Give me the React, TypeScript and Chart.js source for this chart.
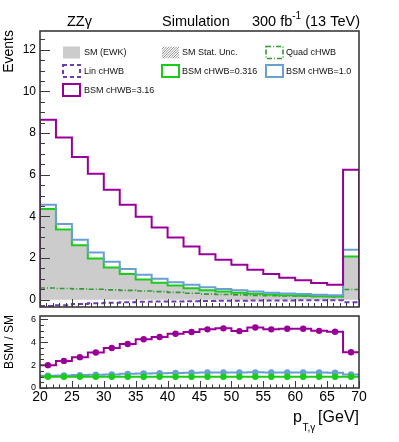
import React, { useEffect, useRef } from 'react';
import { Chart, registerables } from 'chart.js';

Chart.register(...registerables);

// ---------------- data ----------------
const binEdges = [20, 22.5, 25, 27.5, 30, 32.5, 35, 37.5, 40, 42.5, 45, 47.5, 50, 52.5, 55, 57.5, 60, 62.5, 65, 67.5, 70];
const binCenters = [21.25, 23.75, 26.25, 28.75, 31.25, 33.75, 36.25, 38.75, 41.25, 43.75, 46.25, 48.75, 51.25, 53.75, 56.25, 58.75, 61.25, 63.75, 66.25, 68.75];

const smEWK = [4.33, 3.34, 2.6, 1.98, 1.53, 1.21, 0.96, 0.8, 0.66, 0.54, 0.44, 0.38, 0.33, 0.28, 0.24, 0.21, 0.18, 0.16, 0.15, 2.05];
const linCHWB = [-0.3, -0.26, -0.21, -0.17, -0.14, -0.12, -0.1, -0.09, -0.08, -0.07, -0.06, -0.05, -0.05, -0.04, -0.04, -0.04, -0.03, -0.03, -0.03, -0.12];
const quadCHWB = [0.56, 0.54, 0.52, 0.5, 0.47, 0.45, 0.42, 0.39, 0.35, 0.31, 0.27, 0.25, 0.23, 0.21, 0.19, 0.18, 0.17, 0.16, 0.15, 0.49];
const bsm0316 = [4.35, 3.37, 2.61, 1.98, 1.55, 1.23, 0.97, 0.82, 0.68, 0.55, 0.46, 0.4, 0.34, 0.29, 0.25, 0.22, 0.19, 0.17, 0.16, 2.08];
const bsm1 = [4.56, 3.63, 2.88, 2.27, 1.82, 1.47, 1.2, 1.01, 0.84, 0.72, 0.6, 0.52, 0.45, 0.39, 0.34, 0.3, 0.27, 0.24, 0.22, 2.4];
const bsm316 = [8.64, 7.79, 6.85, 6.05, 5.28, 4.56, 3.98, 3.47, 2.99, 2.56, 2.18, 1.92, 1.68, 1.44, 1.23, 1.06, 0.93, 0.8, 0.72, 6.24];

const ratio0316 = [0.98, 0.98, 0.98, 0.98, 0.98, 0.99, 0.99, 0.99, 0.99, 0.99, 0.99, 0.99, 0.99, 0.99, 0.99, 0.99, 0.99, 0.99, 0.99, 0.99];
const ratio1 = [1.07, 1.1, 1.13, 1.16, 1.19, 1.24, 1.27, 1.3, 1.32, 1.34, 1.35, 1.35, 1.36, 1.37, 1.36, 1.36, 1.36, 1.35, 1.34, 1.18];
const ratio316 = [2.0, 2.37, 2.7, 3.1, 3.5, 3.85, 4.26, 4.46, 4.75, 4.9, 5.13, 5.22, 4.98, 5.3, 5.13, 5.18, 5.18, 5.0, 4.92, 3.13];

const mainYTicks = [0, 2, 4, 6, 8, 10, 12];
const ratioYTicks = [0, 2, 4, 6];
const xTickLabels = [20, 25, 30, 35, 40, 45, 50, 55, 60, 65, 70];

// ---------------- styles ----------------
const FONT = "'Liberation Sans', Arial, Helvetica, sans-serif";
const C_SM = '#cccccc';
const C_LIN = '#6b3db0';
const C_QUAD = '#339933';
const C_G = '#18cc18';
const C_B = '#6a9fd4';
const C_M = '#990099';
const C_FRAME = '#3a3a3a';

function stepData(vals: number[], closeZero: boolean) {
  const pts: { x: number; y: number }[] = [];
  if (closeZero) pts.push({ x: binEdges[0], y: 0 });
  vals.forEach((v, i) => pts.push({ x: binEdges[i], y: v }));
  pts.push({ x: binEdges[binEdges.length - 1], y: vals[vals.length - 1] });
  if (closeZero) pts.push({ x: binEdges[binEdges.length - 1], y: 0 });
  return pts;
}

function pointData(vals: number[]) {
  return vals.map((v, i) => ({ x: binCenters[i], y: v }));
}

function line(ctx: CanvasRenderingContext2D, x1: number, y1: number, x2: number, y2: number) {
  ctx.beginPath();
  ctx.moveTo(x1, y1);
  ctx.lineTo(x2, y2);
  ctx.stroke();
}

const mainDecor = {
  id: 'mainDecor',
  afterDraw(chart: any) {
    const { ctx, chartArea: a, scales } = chart;
    const xs = scales.x;
    const ys = scales.y;
    ctx.save();
    // ticks
    ctx.strokeStyle = C_FRAME;
    ctx.lineWidth = 1;
    for (let v = 20; v <= 70; v += 1) {
      const px = Math.round(xs.getPixelForValue(v)) + 0.5;
      line(ctx, px, a.bottom, px, a.bottom - (v % 5 === 0 ? 8 : 4));
    }
    for (let k = 0; k <= 25; k++) {
      const v = k * 0.5;
      const py = Math.round(ys.getPixelForValue(v)) + 0.5;
      if (py < a.top) continue;
      line(ctx, a.left, py, a.left + (k % 4 === 0 ? 10 : 5), py);
    }
    // frame
    ctx.lineWidth = 1.6;
    ctx.strokeStyle = C_FRAME;
    ctx.strokeRect(a.left, a.top, a.right - a.left, a.bottom - a.top);

    // top texts
    ctx.fillStyle = '#000';
    ctx.textBaseline = 'alphabetic';
    ctx.textAlign = 'left';
    const TF = `14.5px ${FONT}`;
    ctx.font = TF;
    ctx.fillText('ZZγ', 67, 26);
    ctx.fillText('Simulation', 162, 26);
    const t1 = '300 fb';
    const t3 = ' (13 TeV)';
    const w1 = ctx.measureText(t1).width;
    const w3 = ctx.measureText(t3).width;
    ctx.font = `10px ${FONT}`;
    const w2 = ctx.measureText('-1').width;
    const sx = 360 - (w1 + w2 + w3);
    ctx.font = TF;
    ctx.fillText(t1, sx, 26);
    ctx.font = `10px ${FONT}`;
    ctx.fillText('-1', sx + w1, 19);
    ctx.font = TF;
    ctx.fillText(t3, sx + w1 + w2, 26);

    // y title
    ctx.save();
    ctx.translate(13, 30);
    ctx.rotate(-Math.PI / 2);
    ctx.textAlign = 'right';
    ctx.font = `14px ${FONT}`;
    ctx.fillText('Events', 0, 0);
    ctx.restore();

    // legend
    const bw = 17;
    const bh = 12;
    const box = (x: number, yc: number, kind: string) => {
      const y = yc - bh / 2;
      ctx.save();
      if (kind === 'fill') {
        ctx.fillStyle = C_SM;
        ctx.fillRect(x, y, bw, bh);
      } else if (kind === 'hatch') {
        ctx.beginPath();
        ctx.rect(x, y, bw, bh);
        ctx.clip();
        ctx.strokeStyle = '#777';
        ctx.lineWidth = 0.8;
        for (let d = -bh; d < bw + bh; d += 2.5) {
          line(ctx, x + d, y + bh, x + d + bh, y);
        }
      } else {
        const [col, dash, lw] = kind === 'lin' ? [C_LIN, [4, 3], 2] : kind === 'quad' ? [C_QUAD, [5, 2, 1, 2], 1.6] : kind === 'g' ? [C_G, [], 2] : kind === 'b' ? [C_B, [], 2] : [C_M, [], 2];
        ctx.strokeStyle = col as string;
        ctx.setLineDash(dash as number[]);
        ctx.lineWidth = lw as number;
        ctx.strokeRect(x, y, bw, bh);
      }
      ctx.restore();
    };
    const label = (x: number, yc: number, txt: string) => {
      ctx.font = `9px ${FONT}`;
      ctx.fillStyle = '#111';
      ctx.textAlign = 'left';
      ctx.textBaseline = 'middle';
      ctx.fillText(txt, x, yc);
    };
    box(63, 52.5, 'fill');
    label(84, 53, 'SM (EWK)');
    box(162, 52.5, 'hatch');
    label(182, 53, 'SM Stat. Unc.');
    box(266, 52.5, 'quad');
    label(286, 53, 'Quad cHWB');
    box(63, 71, 'lin');
    label(84, 71.5, 'Lin cHWB');
    box(162, 71, 'g');
    label(182, 71.5, 'BSM cHWB=0.316');
    box(266, 71, 'b');
    label(286, 71.5, 'BSM cHWB=1.0');
    box(63, 90, 'm');
    label(84, 90.5, 'BSM cHWB=3.16');
    ctx.restore();
  },
};

const ratioDecor = {
  id: 'ratioDecor',
  afterDraw(chart: any) {
    const { ctx, chartArea: a, scales } = chart;
    const xs = scales.x;
    const ys = scales.y;
    ctx.save();
    ctx.strokeStyle = C_FRAME;
    ctx.lineWidth = 1;
    for (let v = 20; v <= 70; v += 1) {
      const px = Math.round(xs.getPixelForValue(v)) + 0.5;
      line(ctx, px, a.bottom, px, a.bottom - (v % 5 === 0 ? 7 : 3.5));
    }
    for (let k = 0; k <= 12; k++) {
      const v = k * 0.5;
      const py = Math.round(ys.getPixelForValue(v)) + 0.5;
      line(ctx, a.left, py, a.left + (k % 4 === 0 ? 8 : 4), py);
    }
    ctx.lineWidth = 1.6;
    ctx.strokeRect(a.left, a.top, a.right - a.left, a.bottom - a.top);

    // y title
    ctx.fillStyle = '#000';
    ctx.save();
    ctx.translate(13, 342);
    ctx.rotate(-Math.PI / 2);
    ctx.textAlign = 'center';
    ctx.textBaseline = 'alphabetic';
    ctx.font = `12px ${FONT}`;
    ctx.fillText('BSM / SM', 0, 0);
    ctx.restore();

    // x title
    ctx.textBaseline = 'alphabetic';
    ctx.textAlign = 'right';
    ctx.font = `16px ${FONT}`;
    ctx.fillText('[GeV]', 359, 422);
    ctx.textAlign = 'left';
    ctx.fillText('p', 293, 422);
    ctx.font = `10px ${FONT}`;
    ctx.fillText('T,γ', 302.5, 431);
    ctx.restore();
  },
};

export default function App() {
  const mainRef = useRef<HTMLCanvasElement>(null);
  const ratioRef = useRef<HTMLCanvasElement>(null);

  useEffect(() => {
    const stepDs = (label: string, vals: number[], color: string, width: number, dash: number[], order: number, closeZero = true) => ({
      label,
      data: stepData(vals, closeZero),
      borderColor: color,
      borderWidth: width,
      borderDash: dash,
      stepped: true,
      pointRadius: 0,
      fill: false,
      order,
    });

    const main = new Chart(mainRef.current!, {
      type: 'line',
      data: {
        datasets: [
          {
            label: 'SM (EWK)',
            data: stepData(smEWK, true),
            borderWidth: 0,
            borderColor: 'rgba(0,0,0,0)',
            backgroundColor: C_SM,
            fill: 'origin',
            stepped: true,
            pointRadius: 0,
            order: 10,
          } as any,
          stepDs('Quad cHWB', quadCHWB, C_QUAD, 1.6, [5, 2, 1, 2], 6, false),
          stepDs('Lin cHWB', linCHWB, C_LIN, 2, [5, 3], 5, false),
          stepDs('BSM cHWB=0.316', bsm0316, C_G, 2, [], 4),
          stepDs('BSM cHWB=1.0', bsm1, C_B, 2, [], 3),
          stepDs('BSM cHWB=3.16', bsm316, C_M, 2, [], 2),
        ],
      },
      options: {
        animation: false,
        responsive: false,
        devicePixelRatio: 1,
        layout: { padding: { left: 0, top: 31, right: 40, bottom: 135 } },
        plugins: { legend: { display: false }, tooltip: { enabled: false } },
        scales: {
          x: { type: 'linear', min: 20, max: 70, display: false },
          y: {
            type: 'linear',
            min: -0.35,
            max: 12.9,
            afterFit: (s: any) => {
              s.width = 40;
            },
            afterBuildTicks: (s: any) => {
              s.ticks = mainYTicks.map((v) => ({ value: v }));
            },
            ticks: { font: { family: FONT, size: 12 }, color: '#000', padding: 4 },
            grid: { display: false, drawTicks: false },
            border: { display: false },
          },
        },
      },
      plugins: [mainDecor],
    } as any);

    const ratioStep = (vals: number[], color: string, order: number) => ({
      data: stepData(vals, false),
      borderColor: color,
      borderWidth: 2,
      stepped: true,
      pointRadius: 0,
      fill: false,
      order,
    });
    const ratioPts = (vals: number[], color: string, order: number) => ({
      data: pointData(vals),
      showLine: false,
      pointRadius: 3.2,
      pointBackgroundColor: color,
      pointBorderColor: color,
      pointBorderWidth: 0,
      order,
    });

    const ratio = new Chart(ratioRef.current!, {
      type: 'line',
      data: {
        datasets: [
          ratioStep(ratio1, C_B, 6),
          ratioPts(ratio1, C_B, 5),
          ratioStep(ratio0316, C_G, 4),
          ratioPts(ratio0316, C_G, 3),
          ratioStep(ratio316, C_M, 2),
          ratioPts(ratio316, C_M, 1),
        ] as any,
      },
      options: {
        animation: false,
        responsive: false,
        devicePixelRatio: 1,
        layout: { padding: { left: 0, top: 316, right: 40, bottom: 24 } },
        plugins: { legend: { display: false }, tooltip: { enabled: false } },
        scales: {
          x: {
            type: 'linear',
            min: 20,
            max: 70,
            afterFit: (s: any) => {
              s.height = 30;
            },
            afterBuildTicks: (s: any) => {
              s.ticks = xTickLabels.map((v) => ({ value: v }));
            },
            ticks: { font: { family: FONT, size: 14 }, color: '#000', padding: 1, maxRotation: 0, autoSkip: false },
            grid: { display: false, drawTicks: false },
            border: { display: false },
          },
          y: {
            type: 'linear',
            min: 0,
            max: 6.3,
            afterFit: (s: any) => {
              s.width = 40;
            },
            afterBuildTicks: (s: any) => {
              s.ticks = ratioYTicks.map((v) => ({ value: v }));
            },
            ticks: { font: { family: FONT, size: 9 }, color: '#000', padding: 4 },
            grid: { display: false, drawTicks: false },
            border: { display: false },
          },
        },
      },
      plugins: [ratioDecor],
    } as any);

    return () => {
      main.destroy();
      ratio.destroy();
    };
  }, []);

  const cstyle: React.CSSProperties = { position: 'absolute', left: 0, top: 0, width: 399, height: 442 };
  return (
    <div style={{ position: 'absolute', left: 0, top: 0, width: 399, height: 442, background: '#fff' }}>
      <canvas ref={mainRef} width={399} height={442} style={cstyle} />
      <canvas ref={ratioRef} width={399} height={442} style={cstyle} />
    </div>
  );
}
